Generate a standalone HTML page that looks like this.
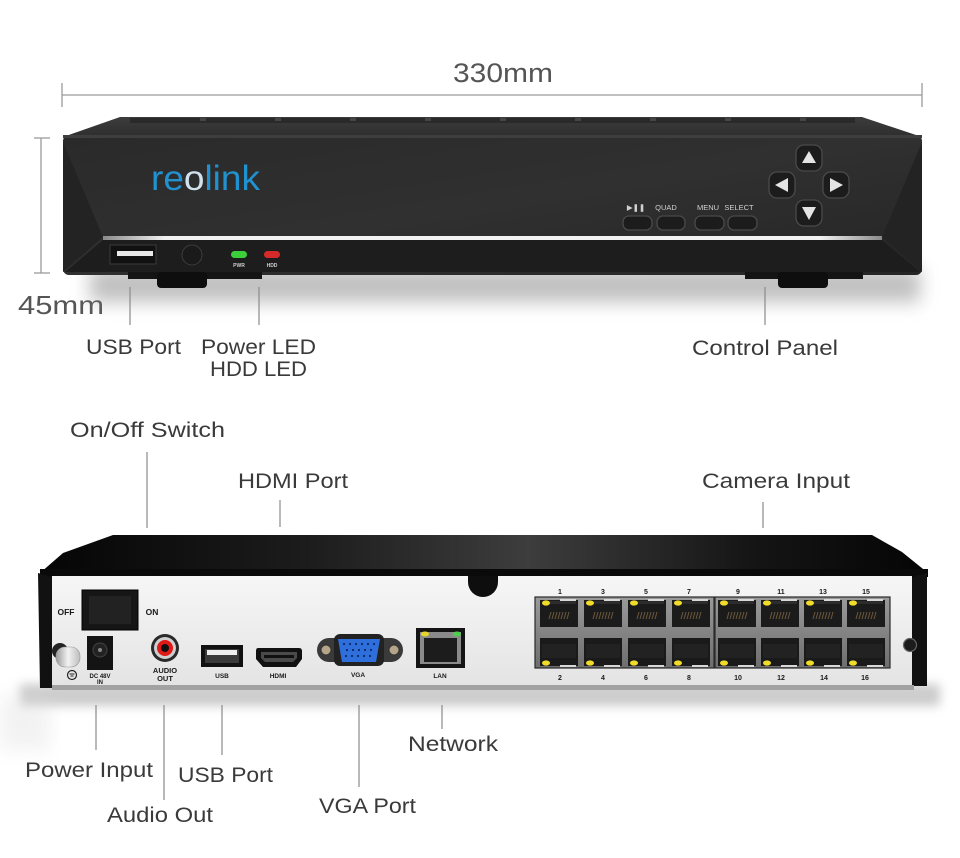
<!DOCTYPE html>
<html><head><meta charset="utf-8"><style>
html,body{margin:0;padding:0;background:#fff;width:960px;height:858px;overflow:hidden}
svg{display:block}
.lb{font-family:"Liberation Sans",sans-serif;font-size:21px;fill:#3a3a3a}
.sm{font-family:"Liberation Sans",sans-serif;font-weight:bold;fill:#1a1a1a;text-anchor:middle}
.ld{stroke:#8a8a8a;stroke-width:1.2}
</style></head><body>
<svg width="960" height="858" viewBox="0 0 960 858" xmlns="http://www.w3.org/2000/svg">
<defs>
 <filter id="b10" x="-20%" y="-200%" width="140%" height="500%"><feGaussianBlur stdDeviation="9"/></filter>
 <filter id="b5" x="-20%" y="-200%" width="140%" height="500%"><feGaussianBlur stdDeviation="5"/></filter>
 <linearGradient id="face" x1="0" y1="0" x2="1" y2="1">
   <stop offset="0" stop-color="#2a2a2a"/><stop offset="0.5" stop-color="#303030"/><stop offset="1" stop-color="#252525"/>
 </linearGradient>
 <linearGradient id="strip" x1="0" x2="1">
   <stop offset="0" stop-color="#8a8a8a"/><stop offset="0.08" stop-color="#f2f2f2"/><stop offset="0.92" stop-color="#f2f2f2"/><stop offset="1" stop-color="#8a8a8a"/>
 </linearGradient>
 <linearGradient id="toptop" x1="0" y1="0" x2="0" y2="1">
   <stop offset="0" stop-color="#3c3c3c"/><stop offset="1" stop-color="#2e2e2e"/>
 </linearGradient>
 <linearGradient id="backtop" x1="0" x2="1">
   <stop offset="0" stop-color="#050505"/><stop offset="0.3" stop-color="#1c1c1c"/><stop offset="0.55" stop-color="#3d3d3d"/><stop offset="0.8" stop-color="#151515"/><stop offset="1" stop-color="#050505"/>
 </linearGradient>
 <linearGradient id="panel" x1="0" y1="0" x2="0" y2="1">
   <stop offset="0" stop-color="#f6f6f6"/><stop offset="1" stop-color="#e4e4e4"/>
 </linearGradient>
 <linearGradient id="metal" x1="0" y1="0" x2="0" y2="1">
   <stop offset="0" stop-color="#9a9a9a"/><stop offset="1" stop-color="#6e6e6e"/>
 </linearGradient>
 <linearGradient id="scr" x1="0" y1="0" x2="1" y2="0">
   <stop offset="0" stop-color="#9a9a9a"/><stop offset="0.5" stop-color="#f2f2f2"/><stop offset="1" stop-color="#bdbdbd"/>
 </linearGradient>
 <g id="cell">
   <rect x="0" y="3" width="38" height="27" fill="#1b1b1b"/>
   <rect x="20" y="2" width="16" height="2" fill="#d8d8d8"/>
   <rect x="2" y="4" width="34" height="3" fill="#2c2c2c"/>
   <g stroke="#6d5a3c" stroke-width="1">
     <line x1="9" y1="22" x2="11" y2="15"/><line x1="12" y1="22" x2="14" y2="15"/><line x1="15" y1="22" x2="17" y2="15"/><line x1="18" y1="22" x2="20" y2="15"/><line x1="21" y1="22" x2="23" y2="15"/><line x1="24" y1="22" x2="26" y2="15"/><line x1="27" y1="22" x2="29" y2="15"/>
   </g>
   <rect x="0" y="41" width="38" height="28" fill="#1a1a1a"/>
   <rect x="2" y="47" width="34" height="14" fill="#222"/>
   <rect x="20" y="68" width="16" height="2" fill="#d8d8d8"/>
   <ellipse cx="6" cy="6" rx="4" ry="2.6" fill="#f2dc2a"/>
   <ellipse cx="6" cy="66" rx="4" ry="2.6" fill="#f2dc2a"/>
 </g>
</defs>

<!-- 330mm dimension -->
<g stroke="#9a9a9a" stroke-width="1.3">
  <line x1="62" y1="95" x2="922" y2="95"/>
  <line x1="62" y1="83" x2="62" y2="107"/>
  <line x1="922" y1="83" x2="922" y2="107"/>
</g>
<text x="453" y="82" font-family="Liberation Sans, sans-serif" font-size="27" fill="#555" textLength="100" lengthAdjust="spacingAndGlyphs">330mm</text>

<!-- 45mm dimension -->
<g stroke="#9a9a9a" stroke-width="1.3">
  <line x1="41" y1="138" x2="41" y2="273"/>
  <line x1="34" y1="138" x2="50" y2="138"/>
  <line x1="34" y1="273" x2="50" y2="273"/>
</g>
<text x="18" y="314" font-family="Liberation Sans, sans-serif" font-size="26" fill="#555" textLength="86" lengthAdjust="spacingAndGlyphs">45mm</text>

<!-- shadow under top device -->
<rect x="90" y="268" width="830" height="34" fill="#8c8c8c" opacity="0.55" filter="url(#b10)"/>

<!-- top device -->
<polygon points="63,137 120,117 862,117 922,137" fill="url(#toptop)"/>
<rect x="130" y="118" width="725" height="5" fill="#2a2a2a"/>
<g fill="#454545">
  <rect x="200" y="118" width="6" height="3"/><rect x="275" y="118" width="6" height="3"/><rect x="350" y="118" width="6" height="3"/><rect x="425" y="118" width="6" height="3"/><rect x="500" y="118" width="6" height="3"/><rect x="575" y="118" width="6" height="3"/><rect x="650" y="118" width="6" height="3"/><rect x="725" y="118" width="6" height="3"/><rect x="800" y="118" width="6" height="3"/>
</g>
<rect x="63" y="135" width="859" height="140" rx="6" fill="url(#face)"/>
<polygon points="63,142 103,237 63,272" fill="#232323"/>
<polygon points="922,142 882,237 922,272" fill="#232323"/>
<polygon points="103,240 882,240 920,272 65,272" fill="#1d1d1d"/>
<rect x="63" y="135" width="859" height="3" fill="#3e3e3e"/>
<rect x="103" y="236" width="779" height="4" fill="url(#strip)"/>

<!-- logo -->
<text x="151" y="190" font-family="Liberation Sans, sans-serif" font-size="35" fill="#2191cf" textLength="109" lengthAdjust="spacingAndGlyphs">re<tspan fill="#cfe2ee">o</tspan>link</text>

<!-- front usb, button, leds -->
<rect x="110" y="245" width="46" height="19" fill="#111" stroke="#3a3a3a"/>
<rect x="117" y="251" width="36" height="5" fill="#e8e8e8"/>
<circle cx="192" cy="255" r="10" fill="#1a1a1a" stroke="#3c3c3c"/>
<rect x="231" y="251" width="16" height="7" rx="3.5" fill="#3bcf3b"/>
<rect x="264" y="251" width="16" height="7" rx="3.5" fill="#d62a2a"/>
<text x="239" y="267" class="sm" font-size="5" style="fill:#cfcfcf">PWR</text>
<text x="272" y="267" class="sm" font-size="5" style="fill:#cfcfcf">HDD</text>

<!-- control panel -->
<g font-family="Liberation Sans, sans-serif" font-size="7.5" fill="#d0d0d0" text-anchor="middle">
  <text x="636" y="210">▶❚❚</text>
  <text x="666" y="210">QUAD</text>
  <text x="708" y="210">MENU</text>
  <text x="739" y="210">SELECT</text>
</g>
<g fill="#1c1c1c" stroke="#4a4a4a" stroke-width="1.3">
  <rect x="623" y="216" width="29" height="14" rx="6"/>
  <rect x="657" y="216" width="28" height="14" rx="6"/>
  <rect x="695" y="216" width="29" height="14" rx="6"/>
  <rect x="728" y="216" width="29" height="14" rx="6"/>
  <rect x="796" y="145" width="26" height="26" rx="8"/>
  <rect x="769" y="172" width="26" height="26" rx="8"/>
  <rect x="823" y="172" width="26" height="26" rx="8"/>
  <rect x="796" y="200" width="26" height="26" rx="8"/>
</g>
<g fill="#e4e4e4">
  <polygon points="809,151 802,163 816,163"/>
  <polygon points="775,185 788,178 788,192"/>
  <polygon points="843,185 830,178 830,192"/>
  <polygon points="809,220 802,207 816,207"/>
</g>

<!-- feet -->
<rect x="128" y="272" width="134" height="7" fill="#141414"/>
<rect x="157" y="272" width="50" height="16" rx="4" fill="#0e0e0e"/>
<rect x="745" y="272" width="118" height="7" fill="#141414"/>
<rect x="778" y="272" width="50" height="16" rx="4" fill="#0e0e0e"/>

<!-- top labels -->
<line class="ld" x1="130" y1="287" x2="130" y2="325"/>
<line class="ld" x1="259" y1="287" x2="259" y2="325"/>
<line class="ld" x1="765" y1="287" x2="765" y2="325"/>
<text class="lb" x="86" y="354" textLength="95" lengthAdjust="spacingAndGlyphs">USB Port</text>
<text class="lb" x="201" y="354" textLength="115" lengthAdjust="spacingAndGlyphs">Power LED</text>
<text class="lb" x="210" y="376" textLength="97" lengthAdjust="spacingAndGlyphs">HDD LED</text>
<text class="lb" x="692" y="355" textLength="146" lengthAdjust="spacingAndGlyphs">Control Panel</text>

<!-- middle labels -->
<text class="lb" x="70" y="437" textLength="155" lengthAdjust="spacingAndGlyphs">On/Off Switch</text>
<text class="lb" x="238" y="488" textLength="110" lengthAdjust="spacingAndGlyphs">HDMI Port</text>
<text class="lb" x="702" y="488" textLength="148" lengthAdjust="spacingAndGlyphs">Camera Input</text>
<line class="ld" x1="147" y1="452" x2="147" y2="528"/>
<line class="ld" x1="280" y1="500" x2="280" y2="527"/>
<line class="ld" x1="763" y1="502" x2="763" y2="528"/>

<!-- shadow under back device -->
<rect x="20" y="684" width="920" height="22" fill="#9a9a9a" opacity="0.5" filter="url(#b5)"/>
<rect x="0" y="695" width="50" height="55" fill="#dcdcdc" opacity="0.35" filter="url(#b10)"/>

<!-- back device -->
<polygon points="40,573 63,553 113,535 872,535 902,552 928,573" fill="url(#backtop)"/>
<rect x="40" y="569" width="888" height="8" fill="#0a0a0a"/>
<rect x="52" y="576" width="860" height="109" fill="url(#panel)"/>
<path d="M468,576 L468,582 A15,15 0 0 0 498,582 L498,576 Z" fill="#0e0e0e"/>
<polygon points="38,573 52,577 52,688 40,688" fill="#111"/>
<polygon points="912,577 927,573 927,686 912,686" fill="#111"/>
<circle cx="910" cy="645" r="6.5" fill="#1c1c1c" stroke="#666" stroke-width="1.2"/>
<rect x="52" y="685" width="862" height="5" fill="#a2a2a2"/>
<rect x="60" y="690" width="850" height="2" fill="#cfcfcf"/>

<!-- switch -->
<text class="sm" x="66" y="615" font-size="8.5">OFF</text>
<text class="sm" x="152" y="615" font-size="8.5">ON</text>
<rect x="82" y="590" width="56" height="40" fill="#161616" stroke="#000"/>
<rect x="89" y="596" width="42" height="28" fill="#222"/>

<!-- ground screw -->
<circle cx="60" cy="651" r="8" fill="#222"/>
<rect x="56" y="647" width="24" height="20" rx="9" fill="url(#scr)" stroke="#999" stroke-width="0.6"/>
<circle cx="72" cy="675" r="4.5" fill="none" stroke="#222" stroke-width="1.2"/>
<path d="M69.5,674 h5 M70.5,676 h3" stroke="#222" stroke-width="1"/>

<!-- DC jack -->
<rect x="87" y="636" width="26" height="34" fill="#141414"/>
<circle cx="100" cy="650" r="7" fill="#222" stroke="#444"/>
<circle cx="100" cy="650" r="2" fill="#888"/>
<text class="sm" x="100" y="678" font-size="6">DC 48V</text>
<text class="sm" x="100" y="684" font-size="6">IN</text>

<!-- RCA -->
<circle cx="165" cy="648" r="14" fill="#2a2a2a"/>
<circle cx="165" cy="648" r="11" fill="#cfcfcf"/>
<circle cx="165" cy="648" r="8" fill="#e01818"/>
<circle cx="165" cy="648" r="4" fill="#111"/>
<text class="sm" x="165" y="673" font-size="7.5">AUDIO</text>
<text class="sm" x="165" y="681" font-size="7.5">OUT</text>

<!-- USB -->
<rect x="201" y="645" width="42" height="22" fill="#111"/>
<rect x="205" y="649" width="34" height="14" fill="#3a3a3a"/>
<rect x="207" y="650" width="30" height="5" fill="#eee"/>
<text class="sm" x="222" y="678" font-size="6.5">USB</text>

<!-- HDMI -->
<path d="M258,648 H299 Q302,648 302,651 V659 L296,667 H263 L256,659 V651 Q256,648 258,648 Z" fill="#111"/>
<path d="M261,652 H297 V658 L293,662 H265 L261,658 Z" fill="#4a4a4a"/>
<rect x="264" y="655" width="30" height="3" fill="#111"/>
<text class="sm" x="278" y="678" font-size="6.5">HDMI</text>

<!-- VGA -->
<rect x="317" y="638" width="86" height="24" rx="12" fill="#3a3a3a"/>
<circle cx="326" cy="650" r="5" fill="#b5a68a" stroke="#333"/>
<circle cx="394" cy="650" r="5" fill="#b5a68a" stroke="#333"/>
<rect x="334" y="634" width="50" height="32" rx="6" fill="#222"/>
<path d="M338,639 H380 L376,662 H342 Z" fill="#2f6fdc"/>
<g fill="#0d2a66">
  <circle cx="344" cy="644" r="1.1"/><circle cx="350" cy="644" r="1.1"/><circle cx="356" cy="644" r="1.1"/><circle cx="362" cy="644" r="1.1"/><circle cx="368" cy="644" r="1.1"/><circle cx="374" cy="644" r="1.1"/>
  <circle cx="347" cy="650" r="1.1"/><circle cx="353" cy="650" r="1.1"/><circle cx="359" cy="650" r="1.1"/><circle cx="365" cy="650" r="1.1"/><circle cx="371" cy="650" r="1.1"/>
  <circle cx="346" cy="656" r="1.1"/><circle cx="352" cy="656" r="1.1"/><circle cx="358" cy="656" r="1.1"/><circle cx="364" cy="656" r="1.1"/><circle cx="370" cy="656" r="1.1"/>
</g>
<text class="sm" x="358" y="677" font-size="6.5">VGA</text>

<!-- LAN -->
<rect x="416" y="628" width="49" height="40" fill="#141414"/>
<rect x="420" y="632" width="41" height="32" fill="#8a8a8a"/>
<rect x="424" y="638" width="33" height="24" fill="#1c1c1c"/>
<ellipse cx="425" cy="634" rx="4" ry="2.5" fill="#e8d52a"/>
<ellipse cx="457" cy="634" rx="4" ry="2.5" fill="#4ccf4c"/>
<text class="sm" x="440" y="678" font-size="6.5">LAN</text>

<!-- camera ports -->
<rect x="535" y="597" width="179" height="71" fill="url(#metal)" stroke="#2a2a2a" stroke-width="1.2"/>
<rect x="715" y="597" width="175" height="71" fill="url(#metal)" stroke="#2a2a2a" stroke-width="1.2"/>
<use href="#cell" x="540" y="597"/>
<use href="#cell" x="584" y="597"/>
<use href="#cell" x="628" y="597"/>
<use href="#cell" x="672" y="597"/>
<use href="#cell" x="718" y="597"/>
<use href="#cell" x="761" y="597"/>
<use href="#cell" x="804" y="597"/>
<use href="#cell" x="847" y="597"/>
<g>
  <text x="560" y="594" class="sm" font-size="7">1</text><text x="603" y="594" class="sm" font-size="7">3</text><text x="646" y="594" class="sm" font-size="7">5</text><text x="689" y="594" class="sm" font-size="7">7</text>
  <text x="738" y="594" class="sm" font-size="7">9</text><text x="781" y="594" class="sm" font-size="7">11</text><text x="823" y="594" class="sm" font-size="7">13</text><text x="866" y="594" class="sm" font-size="7">15</text>
  <text x="560" y="680" class="sm" font-size="7">2</text><text x="603" y="680" class="sm" font-size="7">4</text><text x="646" y="680" class="sm" font-size="7">6</text><text x="689" y="680" class="sm" font-size="7">8</text>
  <text x="738" y="680" class="sm" font-size="7">10</text><text x="781" y="680" class="sm" font-size="7">12</text><text x="824" y="680" class="sm" font-size="7">14</text><text x="865" y="680" class="sm" font-size="7">16</text>
</g>

<!-- bottom labels -->
<line class="ld" x1="96" y1="705" x2="96" y2="750"/>
<line class="ld" x1="164" y1="705" x2="164" y2="800"/>
<line class="ld" x1="222" y1="705" x2="222" y2="755"/>
<line class="ld" x1="359" y1="705" x2="359" y2="787"/>
<line class="ld" x1="442" y1="705" x2="442" y2="729"/>
<text class="lb" x="25" y="777" textLength="128" lengthAdjust="spacingAndGlyphs">Power Input</text>
<text class="lb" x="107" y="822" textLength="106" lengthAdjust="spacingAndGlyphs">Audio Out</text>
<text class="lb" x="178" y="782" textLength="95" lengthAdjust="spacingAndGlyphs">USB Port</text>
<text class="lb" x="319" y="813" textLength="97" lengthAdjust="spacingAndGlyphs">VGA Port</text>
<text class="lb" x="408" y="751" textLength="90" lengthAdjust="spacingAndGlyphs">Network</text>
</svg>
</body></html>
